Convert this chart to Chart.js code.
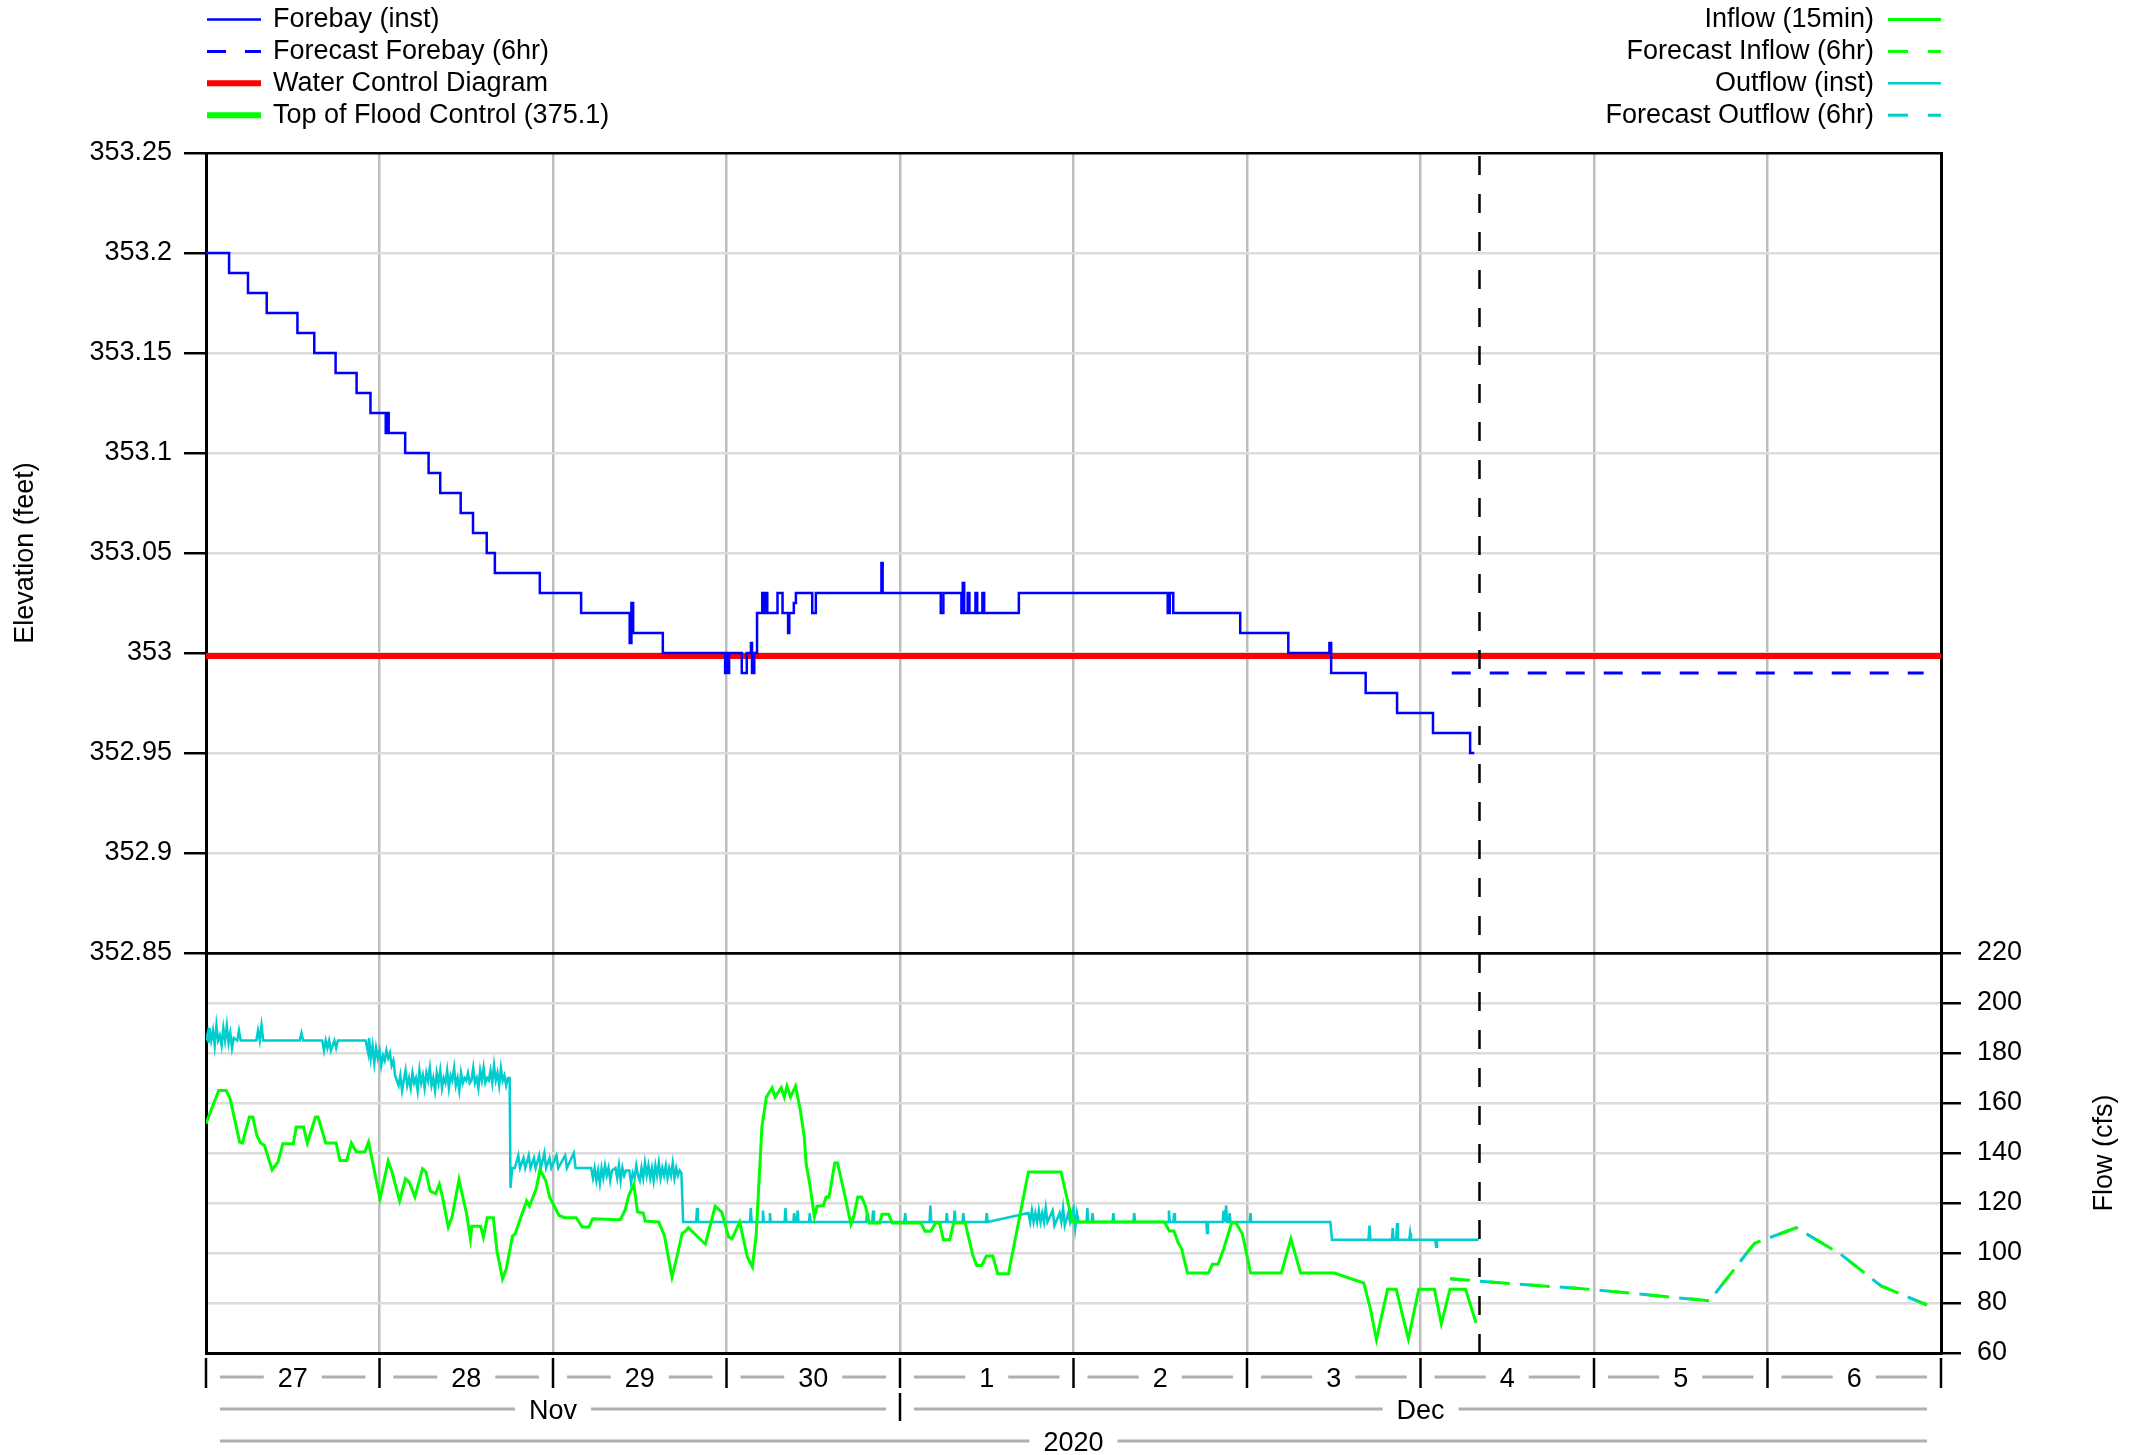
<!DOCTYPE html>
<html>
<head>
<meta charset="utf-8">
<title>Forebay and Flow</title>
<script src="https://cdn.jsdelivr.net/npm/chart.js@4.4.0/dist/chart.umd.min.js"></script>
<style>
	html, body { margin: 0; padding: 0; background: #fff; }
	#wrap { width: 2141px; height: 1455px; position: relative; }
</style>
</head>
<body>
<div id="wrap"><canvas id="chart"></canvas></div>
<script>
// time is in days from 27 Nov 2020 00:00

// Forebay elevation (feet), 15 min data, only the change points
const fbTime = [0, 0.133, 0.242, 0.35, 0.527, 0.624, 0.747, 0.868, 0.948, 1.036, 1.042, 1.053, 1.148, 1.283, 1.35, 1.468, 1.539, 1.618, 1.665, 1.924,
	2.162, 2.442, 2.452, 2.462, 2.633, 2.992, 3.0, 3.005, 3.015, 3.088, 3.117, 3.141, 3.147, 3.16, 3.176, 3.206, 3.212, 3.222, 3.235, 3.294,
	3.323, 3.355, 3.362, 3.388, 3.4, 3.494, 3.515, 3.893, 3.9, 4.235, 4.25, 4.354, 4.362, 4.37, 4.39, 4.4, 4.435, 4.445, 4.475, 4.485,
	4.685, 5.543, 5.555, 5.575, 5.961, 6.238, 6.475, 6.485, 6.684, 6.865, 7.072, 7.286, 7.31];
const fbElev = [353.2, 353.19, 353.18, 353.17, 353.16, 353.15, 353.14, 353.13, 353.12, 353.11, 353.12, 353.11, 353.1, 353.09, 353.08, 353.07, 353.06, 353.05, 353.04, 353.03,
	353.02, 353.005, 353.025, 353.01, 353.0, 352.99, 353.0, 352.99, 353.0, 352.99, 353.0, 353.005, 352.99, 353.0, 353.02, 353.03, 353.02, 353.03, 353.02, 353.03,
	353.02, 353.01, 353.02, 353.025, 353.03, 353.02, 353.03, 353.045, 353.03, 353.02, 353.03, 353.02, 353.035, 353.02, 353.03, 353.02, 353.03, 353.02, 353.03, 353.02,
	353.03, 353.02, 353.03, 353.02, 353.01, 353.0, 353.005, 352.99, 352.98, 352.97, 352.96, 352.95, 352.95];

const fcFbTime = [7.18, 9.9];
const fcFbElev = [352.99, 352.99];

const wcdTime = [0, 10];
const wcdElev = [352.9985, 352.9985];

const tfcTime = [0, 10];
const tfcElev = [375.1, 375.1];

// Inflow (cfs), 15 min
const inTime = [0, 0.018, 0.073, 0.117, 0.139, 0.194, 0.21, 0.25, 0.27, 0.293, 0.315, 0.337, 0.381, 0.415, 0.443, 0.503, 0.52, 0.562, 0.584, 0.631,
	0.646, 0.69, 0.75, 0.772, 0.811, 0.838, 0.867, 0.915, 0.937, 1.003, 1.05, 1.072, 1.116, 1.15, 1.171, 1.204, 1.248, 1.268, 1.292, 1.323,
	1.345, 1.363, 1.396, 1.418, 1.458, 1.502, 1.524, 1.532, 1.583, 1.599, 1.621, 1.656, 1.678, 1.709, 1.731, 1.766, 1.782, 1.815, 1.848, 1.864,
	1.903, 1.925, 1.958, 1.98, 2.035, 2.068, 2.134, 2.168, 2.207, 2.229, 2.388, 2.415, 2.437, 2.466, 2.487, 2.52, 2.531, 2.609, 2.642, 2.686,
	2.714, 2.745, 2.758, 2.78, 2.878, 2.935, 2.973, 3.012, 3.032, 3.076, 3.12, 3.149, 3.171, 3.204, 3.23, 3.263, 3.28, 3.315, 3.333, 3.348,
	3.369, 3.398, 3.426, 3.448, 3.459, 3.481, 3.507, 3.521, 3.558, 3.574, 3.591, 3.624, 3.64, 3.68, 3.717, 3.735, 3.757, 3.779, 3.801, 3.823,
	3.883, 3.896, 3.934, 3.956, 4.121, 4.144, 4.177, 4.205, 4.228, 4.25, 4.287, 4.309, 4.376, 4.42, 4.442, 4.471, 4.498, 4.535, 4.563, 4.625,
	4.74, 4.928, 4.994, 5.524, 5.553, 5.579, 5.601, 5.623, 5.657, 5.778, 5.8, 5.833, 5.866, 5.911, 5.937, 5.973, 6.021, 6.198, 6.253, 6.309,
	6.503, 6.673, 6.711, 6.746, 6.81, 6.86, 6.93, 6.99, 7.08, 7.12, 7.17, 7.26, 7.32];
const inFlow = [151.7, 155, 165, 165, 161.7, 144.4, 144, 154.4, 154.4, 147, 144, 143, 133.3, 136.4, 143.7, 143.7, 150.4, 150.4, 144, 154.4,
	154.4, 144, 144, 137, 137, 144, 140.4, 140.4, 144.4, 121.7, 136.7, 132.4, 120.8, 129.7, 128.4, 122.4, 133.7, 132.4, 124.8, 123.7,
	127.5, 122.4, 110.4, 114.4, 129.3, 115.7, 105.7, 110.7, 110.7, 106.4, 114.1, 114.1, 100.4, 89.7, 93.7, 106.7, 107.7, 114.4, 120.8, 118.7,
	125.7, 133.3, 129, 122.4, 115, 114.1, 114.1, 110.4, 110.4, 113.7, 113.3, 117.1, 123.1, 127.5, 116.4, 116, 112.8, 112.4, 107, 90.4,
	98.4, 108, 108.4, 110.1, 103.5, 118.7, 116.4, 106.4, 105.7, 112.4, 98.4, 94.4, 107, 150.4, 162.4, 166.1, 162.4, 166.1, 162.4, 166.7,
	162.4, 166.7, 157, 146.4, 135.7, 127, 114.4, 118.7, 119, 122.4, 122.4, 136, 136, 123.7, 111.5, 115, 122.4, 122.4, 118.7, 112,
	112, 115.5, 115.5, 112, 112, 108.7, 108.7, 112, 112, 105.3, 105.3, 112, 112, 99, 95, 95, 98.8, 98.8, 91.7, 91.7,
	132.4, 132.4, 112.4, 112.4, 108.8, 108.8, 104.4, 101.7, 92, 92, 95.5, 95.5, 101.7, 112, 112, 107.7, 92, 92, 105.7, 92,
	92, 88, 77.7, 65.3, 85.5, 85.5, 65.6, 85.5, 85.5, 71.6, 85.5, 85.5, 72];

const fcInTime = [7.17, 7.33, 7.67, 7.92, 8.17, 8.42, 8.666, 8.925, 9.166, 9.42, 9.655, 9.92];
const fcInFlow = [89.7, 88.8, 87.0, 85.8, 84.2, 82.5, 80.9, 103.9, 110.1, 99.6, 86.8, 79.2];

// Outflow (cfs), instantaneous
const outTime = [0, 0.01, 0.015, 0.02, 0.03, 0.04, 0.05, 0.06, 0.07, 0.08, 0.09, 0.1, 0.11, 0.12, 0.13, 0.14, 0.15, 0.16, 0.18, 0.19,
	0.2, 0.29, 0.3, 0.31, 0.32, 0.33, 0.54, 0.55, 0.56, 0.67, 0.68, 0.69, 0.7, 0.71, 0.72, 0.74, 0.75, 0.76, 0.92,
	0.935, 0.94, 0.95, 0.96, 0.97, 0.98, 0.99, 1.0, 1.01, 1.02, 1.03, 1.04, 1.05, 1.06, 1.07, 1.08, 1.09, 1.1,
	1.11, 1.12, 1.13, 1.14, 1.15, 1.16, 1.17, 1.18, 1.19, 1.2, 1.21, 1.22, 1.23, 1.24, 1.25, 1.26, 1.27, 1.28, 1.29, 1.3,
	1.31, 1.32, 1.33, 1.34, 1.35, 1.36, 1.37, 1.38, 1.39, 1.4, 1.41, 1.42, 1.43, 1.44, 1.45, 1.46, 1.47, 1.48, 1.49, 1.5,
	1.51, 1.52, 1.53, 1.54, 1.55, 1.56, 1.57, 1.58, 1.59, 1.6, 1.61, 1.62, 1.63, 1.64, 1.65, 1.66, 1.67, 1.68, 1.69, 1.7,
	1.71, 1.72, 1.73, 1.74, 1.75, 1.755, 1.765,
	1.78, 1.8, 1.81, 1.83, 1.84, 1.86, 1.87, 1.89, 1.9, 1.92, 1.93, 1.95, 1.96, 1.98, 1.99, 2.02, 2.03, 2.07, 2.08, 2.12,
	2.13, 2.22, 2.23, 2.24, 2.25, 2.26, 2.27, 2.28, 2.29, 2.3, 2.31, 2.32, 2.33, 2.34, 2.36, 2.37, 2.38, 2.39, 2.4, 2.41,
	2.42, 2.44, 2.45, 2.46, 2.47, 2.48, 2.49, 2.5, 2.51, 2.52, 2.53, 2.54, 2.55, 2.56, 2.57, 2.58, 2.59, 2.6, 2.61, 2.62,
	2.63, 2.64, 2.65, 2.66, 2.67, 2.68, 2.69, 2.7, 2.71, 2.72, 2.73, 2.74, 2.75,
	2.825, 2.83, 2.835, 3.135, 3.14, 3.145, 3.205, 3.21, 3.215, 3.245, 3.25, 3.255, 3.335, 3.34, 3.345, 3.385, 3.39, 3.395,
	3.405, 3.41, 3.415, 3.475, 3.48, 3.485, 3.805, 3.81, 3.815, 3.84, 3.845, 3.85, 4.025, 4.03, 4.035, 4.17, 4.175, 4.18,
	4.265, 4.27, 4.275, 4.31, 4.315, 4.32, 4.36, 4.365, 4.37, 4.495, 4.5, 4.505,
	4.74, 4.75, 4.76, 4.77, 4.78, 4.79, 4.8, 4.81, 4.82, 4.83, 4.84, 4.85, 4.88, 4.89, 4.92, 4.93, 4.94, 4.95, 4.97, 4.98,
	5.0, 5.01, 5.02, 5.03, 5.075, 5.08, 5.085, 5.105, 5.11, 5.115, 5.225, 5.23, 5.235, 5.345, 5.35, 5.355,
	5.545, 5.55, 5.555, 5.575, 5.58, 5.585, 5.765, 5.77, 5.775, 5.86, 5.865, 5.87, 5.88, 5.885, 5.895, 5.9, 5.905,
	6.015, 6.02, 6.025, 6.48, 6.49, 6.7, 6.706, 6.712, 6.835, 6.84, 6.845, 6.86, 6.865, 6.87, 6.935, 6.94, 6.945,
	7.085, 7.09, 7.095, 7.335];
const outFlow = [185, 188, 184, 190, 185, 189, 183, 191, 185, 187, 183, 190, 185, 191, 184, 188, 182, 186, 185, 189,
	185, 185, 189, 185, 191, 185, 185, 188, 185, 185, 181, 185, 182, 185, 181, 185, 182, 185, 185,
	180, 186, 178, 183, 176, 182, 178, 181, 175, 179, 177, 181, 178, 180, 175, 177, 171, 169,
	167, 171, 165, 169, 173, 167, 170, 166, 172, 168, 170, 165, 173, 168, 171, 166, 172, 169, 174, 167,
	170, 165, 172, 168, 173, 166, 170, 168, 173, 166, 171, 169, 174, 167, 170, 165, 172, 168, 170, 169,
	172, 168, 169, 174, 168, 170, 166, 173, 169, 174, 168, 170, 169, 173, 168, 175, 169, 172, 167, 174,
	169, 171, 167, 170, 170, 126, 134,
	134, 139, 134, 138, 134, 139, 134, 138, 134, 139, 134, 140, 134, 138, 134, 139, 134, 139, 134, 140,
	134, 134, 130, 134, 129, 133, 128, 134, 130, 135, 131, 134, 129, 133, 134, 130, 135, 129, 134, 131,
	133, 133, 128, 132, 130, 135, 131, 129, 134, 130, 136, 131, 135, 130, 134, 129, 135, 131, 136, 130,
	134, 131, 135, 130, 134, 131, 136, 130, 134, 131, 133, 132, 112.4,
	112.4, 118, 112.4, 112.4, 118, 112.4, 112.4, 117, 112.4, 112.4, 116, 112.4, 112.4, 118, 112.4, 112.4, 116, 112.4,
	112.4, 117, 112.4, 112.4, 116, 112.4, 112.4, 116, 112.4, 112.4, 117, 112.4, 112.4, 116, 112.4, 112.4, 119, 112.4,
	112.4, 116, 112.4, 112.4, 117, 112.4, 112.4, 116, 112.4, 112.4, 116, 112.4,
	116, 112.4, 117, 112.4, 116, 112.4, 117, 112.4, 116, 112.4, 118, 112.4, 117, 111, 116, 112.4, 118, 111, 116, 112.4,
	118, 110, 116, 112.4, 112.4, 118, 112.4, 112.4, 116, 112.4, 112.4, 116, 112.4, 112.4, 116, 112.4,
	112.4, 117, 112.4, 112.4, 116, 112.4, 112.4, 108, 112.4, 112.4, 117, 112.4, 119, 112.4, 112.4, 116, 112.4,
	112.4, 116, 112.4, 112.4, 105.3, 105.3, 111, 105.3, 105.3, 110, 105.3, 105.3, 112, 105.3, 105.3, 108, 105.3,
	105.3, 102.5, 105.3, 105.3];

const fcOutTime = [7.17, 7.33, 7.67, 7.92, 8.17, 8.42, 8.666, 8.925, 9.166, 9.42, 9.655, 9.92];
const fcOutFlow = [89.7, 88.8, 87.0, 85.8, 84.2, 82.5, 80.9, 103.9, 110.1, 99.6, 86.8, 79.2];

// time of the last observation (dashed black line)
const nowTime = 7.34;

// axes
const elevTicks = [352.85, 352.9, 352.95, 353, 353.05, 353.1, 353.15, 353.2, 353.25];
const flowTicks = [60, 80, 100, 120, 140, 160, 180, 200, 220];
const dayLabels = ["27", "28", "29", "30", "1", "2", "3", "4", "5", "6"];
const monthLabels = ["Nov", "Dec"];
const monthStarts = [0, 4, 10];
const yearLabel = "2020";

const FONT = '"Liberation Sans", Arial, sans-serif';

function pts(t, v) {
	return t.map((x, i) => ({ x: x, y: v[i] }));
}

/*######################################*
||        Legends, titles, axis         ||
*######################################*/

const legendPlugin = {
	id: "sideLegends",
	afterDraw(chart) {
		const ctx = chart.ctx;
		ctx.save();
		ctx.font = "27px " + FONT;
		ctx.textBaseline = "middle";
		chart.data.datasets.forEach((ds) => {
			if (!ds.legendSide) return;
			const y = 19.5 + ds.legendRow * 31.9;
			let x0, x1, tx;
			if (ds.legendSide === "left") {
				x0 = 207; x1 = 261; tx = 273;
				ctx.textAlign = "left";
			} else {
				x0 = 1888; x1 = 1941; tx = 1874;
				ctx.textAlign = "right";
			}
			ctx.strokeStyle = ds.borderColor;
			ctx.lineWidth = ds.borderWidth;
			ctx.setLineDash(ds.borderDash || []);
			ctx.beginPath();
			ctx.moveTo(x0, y);
			ctx.lineTo(x1, y);
			ctx.stroke();
			ctx.setLineDash([]);
			ctx.fillStyle = "#000";
			ctx.fillText(ds.label, tx, y);
		});
		ctx.restore();
	},
};

// label with a grey rule on each side, like "—— 27 ——"
function spanLabel(ctx, x0, x1, y, text) {
	const w = ctx.measureText(text).width;
	const c = (x0 + x1) / 2;
	ctx.beginPath();
	ctx.moveTo(x0 + 14, y);
	ctx.lineTo(c - w / 2 - 14, y);
	ctx.moveTo(c + w / 2 + 14, y);
	ctx.lineTo(x1 - 14, y);
	ctx.stroke();
	ctx.fillText(text, c, y + 3);
}

const axisPlugin = {
	id: "timeAxis",
	afterDraw(chart) {
		const ctx = chart.ctx;
		const xs = chart.scales.x;
		const ys = chart.scales.y;
		const y2 = chart.scales.y2;
		ctx.save();
		ctx.font = "27px " + FONT;
		ctx.textAlign = "center";
		ctx.textBaseline = "middle";

		// day ticks
		ctx.strokeStyle = "#000";
		ctx.lineWidth = 2.5;
		ctx.beginPath();
		for (let d = 0; d <= dayLabels.length; d++) {
			const px = xs.getPixelForValue(d);
			ctx.moveTo(px, 1358);
			ctx.lineTo(px, 1388);
		}
		for (let m = 1; m < monthStarts.length - 1; m++) {
			const px = xs.getPixelForValue(monthStarts[m]);
			ctx.moveTo(px, 1393);
			ctx.lineTo(px, 1421);
		}
		ctx.stroke();

		ctx.strokeStyle = "rgb(175,175,175)";
		ctx.lineWidth = 3;
		ctx.fillStyle = "#000";
		dayLabels.forEach((lab, d) => {
			spanLabel(ctx, xs.getPixelForValue(d), xs.getPixelForValue(d + 1), 1377, lab);
		});
		monthLabels.forEach((lab, m) => {
			spanLabel(ctx, xs.getPixelForValue(monthStarts[m]), xs.getPixelForValue(monthStarts[m + 1]), 1409, lab);
		});
		spanLabel(ctx, xs.getPixelForValue(0), xs.getPixelForValue(10), 1441, yearLabel);

		// axis titles, centred on their own panel
		const ey = (ys.getPixelForValue(elevTicks[0]) + ys.getPixelForValue(elevTicks[elevTicks.length - 1])) / 2;
		const fy = (y2.getPixelForValue(flowTicks[0]) + y2.getPixelForValue(flowTicks[flowTicks.length - 1])) / 2;
		ctx.save();
		ctx.translate(26, ey);
		ctx.rotate(-Math.PI / 2);
		ctx.fillText("Elevation (feet)", 0, 0);
		ctx.restore();
		ctx.save();
		ctx.translate(2105, fy);
		ctx.rotate(-Math.PI / 2);
		ctx.fillText("Flow (cfs)", 0, 0);
		ctx.restore();

		ctx.restore();
	},
};

/*######################################*
||             The chart                ||
*######################################*/

function edgeColor(edges, light) {
	return (c) => {
		if (!c.tick) return light;
		return edges.some((e) => Math.abs(c.tick.value - e) < 1e-6) ? "#000" : light;
	};
}

new Chart("chart", {
	type: "line",
	data: {
		datasets: [
			{
				label: "now",
				data: pts([nowTime, nowTime], [352.65, 353.25]),
				yAxisID: "y",
				borderColor: "#000",
				borderWidth: 2.5,
				borderDash: [19, 19],
				order: 0,
			},
			{
				label: "Forebay (inst)",
				data: pts(fbTime, fbElev),
				yAxisID: "y",
				borderColor: "#0000ff",
				borderWidth: 2.5,
				stepped: true,
				order: 1,
				legendSide: "left",
				legendRow: 0,
			},
			{
				label: "Forecast Forebay (6hr)",
				data: pts(fcFbTime, fcFbElev),
				yAxisID: "y",
				borderColor: "#0000ff",
				borderWidth: 3,
				borderDash: [19, 19],
				order: 2,
				legendSide: "left",
				legendRow: 1,
			},
			{
				label: "Water Control Diagram",
				data: pts(wcdTime, wcdElev),
				yAxisID: "y",
				borderColor: "#ff0000",
				borderWidth: 6,
				order: 7,
				legendSide: "left",
				legendRow: 2,
			},
			{
				label: "Top of Flood Control (375.1)",
				data: pts(tfcTime, tfcElev),
				yAxisID: "y",
				borderColor: "#00ff00",
				borderWidth: 6,
				order: 8,
				legendSide: "left",
				legendRow: 3,
			},
			{
				label: "Inflow (15min)",
				data: pts(inTime, inFlow),
				yAxisID: "y2",
				borderColor: "#00ff00",
				borderWidth: 3,
				order: 3,
				legendSide: "right",
				legendRow: 0,
			},
			{
				label: "Forecast Inflow (6hr)",
				data: pts(fcInTime, fcInFlow),
				yAxisID: "y2",
				borderColor: "#00ff00",
				borderWidth: 3,
				borderDash: [20, 20],
				order: 4,
				legendSide: "right",
				legendRow: 1,
			},
			{
				label: "Outflow (inst)",
				data: pts(outTime, outFlow),
				yAxisID: "y2",
				borderColor: "#00cdcd",
				borderWidth: 2.5,
				order: 5,
				legendSide: "right",
				legendRow: 2,
			},
			{
				label: "Forecast Outflow (6hr)",
				data: pts(fcOutTime, fcOutFlow),
				yAxisID: "y2",
				borderColor: "#00cdcd",
				borderWidth: 3,
				borderDash: [20, 20],
				borderDashOffset: 10,
				order: 6,
				legendSide: "right",
				legendRow: 3,
			},
		],
	},
	options: {
		responsive: true,
		maintainAspectRatio: false,
		devicePixelRatio: 1,
		animation: false,
		events: [],
		layout: { padding: { top: 153, left: 0, right: 0, bottom: 0 } },
		elements: { point: { radius: 0 }, line: { tension: 0 } },
		plugins: {
			legend: { display: false },
			tooltip: { enabled: false },
			title: { display: false },
		},
		scales: {
			x: {
				type: "linear",
				min: 0,
				max: 10,
				ticks: { display: false, stepSize: 1 },
				grid: { color: "rgb(190,190,190)", lineWidth: 2.5, drawTicks: false },
				border: { display: true, color: "#000", width: 3 },
				afterFit: (s) => { s.height = 102; },
			},
			y: {
				type: "linear",
				position: "left",
				min: 352.65,
				max: 353.25,
				afterBuildTicks: (s) => { s.ticks = elevTicks.map((v) => ({ value: v })); },
				ticks: {
					font: { family: FONT, size: 27 },
					color: "#000",
					padding: 12,
					callback: (v) => String(Number(Number(v).toFixed(2))),
				},
				grid: {
					color: edgeColor([352.85, 353.25], "rgb(220,220,220)"),
					lineWidth: 2.5,
					tickColor: "#000",
					tickLength: 22,
					tickWidth: 2.5,
				},
				border: { display: true, color: "#000", width: 3 },
				afterFit: (s) => { s.width = 206; },
			},
			y2: {
				type: "linear",
				position: "right",
				min: 60,
				max: 540,
				afterBuildTicks: (s) => { s.ticks = flowTicks.map((v) => ({ value: v })); },
				ticks: {
					font: { family: FONT, size: 27 },
					color: "#000",
					padding: 16,
				},
				grid: {
					color: edgeColor([60, 220], "rgb(220,220,220)"),
					lineWidth: 2.5,
					tickColor: "#000",
					tickLength: 20,
					tickWidth: 2.5,
				},
				border: { display: true, color: "#000", width: 3 },
				afterFit: (s) => { s.width = 200; },
			},
		},
	},
	plugins: [legendPlugin, axisPlugin],
});
</script>
</body>
</html>
